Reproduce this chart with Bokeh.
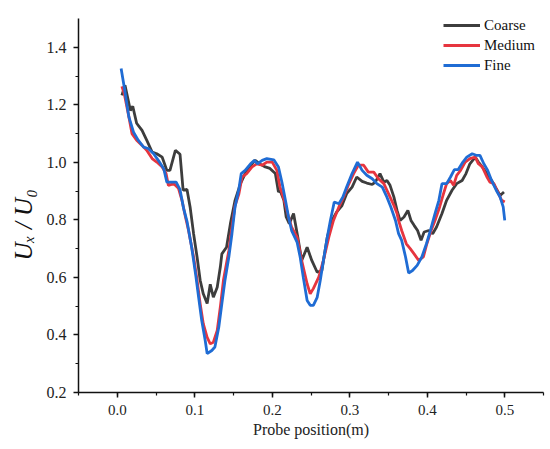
from bokeh.plotting import figure
from bokeh.models import (Range1d, SingleIntervalTicker, PrintfTickFormatter,
                          Legend, LegendItem, Title)
from bokeh.embed import file_html
from bokeh.resources import INLINE

# ---------------- data ----------------
coarse_x = [0.006, 0.010, 0.017, 0.020, 0.025, 0.032, 0.038, 0.045, 0.051, 0.058,
            0.064, 0.068, 0.075, 0.081, 0.085, 0.090, 0.094, 0.0985, 0.103, 0.107,
            0.111, 0.116, 0.120, 0.124, 0.129, 0.133, 0.135, 0.141, 0.146, 0.152,
            0.159, 0.165, 0.172, 0.178, 0.185, 0.191, 0.197, 0.204, 0.208, 0.210,
            0.215, 0.218, 0.222, 0.2275, 0.233, 0.238, 0.245, 0.251, 0.258, 0.264,
            0.271, 0.277, 0.283, 0.290, 0.296, 0.303, 0.309, 0.316, 0.322, 0.329,
            0.333, 0.339, 0.344, 0.348, 0.352, 0.357, 0.361, 0.365, 0.370, 0.375,
            0.379, 0.383, 0.3875, 0.392, 0.396, 0.402, 0.407, 0.412, 0.419, 0.425,
            0.432, 0.438, 0.445, 0.450, 0.455, 0.462, 0.466, 0.471, 0.477, 0.483,
            0.489, 0.494, 0.499]
coarse_y = [1.233, 1.268, 1.180, 1.195, 1.136, 1.111, 1.077, 1.036, 1.030, 1.018,
            0.972, 0.972, 1.042, 1.028, 0.903, 0.906, 0.845, 0.752, 0.671, 0.590,
            0.543, 0.509, 0.576, 0.531, 0.566, 0.636, 0.682, 0.705, 0.787, 0.868,
            0.926, 0.961, 0.990, 1.007, 0.993, 0.984, 0.979, 0.961, 0.897, 0.903,
            0.868, 0.810, 0.787, 0.822, 0.740, 0.659, 0.705, 0.659, 0.618, 0.624,
            0.740, 0.798, 0.827, 0.850, 0.891, 0.914, 0.949, 0.934, 0.928, 0.923,
            0.931, 0.961, 0.931, 0.937, 0.920, 0.879, 0.833, 0.798, 0.810, 0.833,
            0.798, 0.781, 0.763, 0.729, 0.758, 0.763, 0.752, 0.775, 0.822, 0.868,
            0.903, 0.926, 0.937, 0.961, 0.995, 1.018, 1.001, 0.984, 0.961, 0.937,
            0.908, 0.885, 0.897]

medium_x = [0.006, 0.009, 0.015, 0.019, 0.025, 0.032, 0.038, 0.045, 0.051, 0.058,
            0.063, 0.066, 0.073, 0.079, 0.0835, 0.088, 0.092, 0.0985, 0.103, 0.107,
            0.111, 0.116, 0.120, 0.124, 0.129, 0.133, 0.137, 0.144, 0.148, 0.152,
            0.157, 0.161, 0.167, 0.174, 0.180, 0.187, 0.193, 0.200, 0.206, 0.210,
            0.2155, 0.221, 0.225, 0.232, 0.238, 0.245, 0.249, 0.253, 0.260, 0.266,
            0.273, 0.279, 0.286, 0.292, 0.298, 0.305, 0.311, 0.318, 0.324, 0.331,
            0.337, 0.344, 0.350, 0.357, 0.361, 0.363, 0.367, 0.373, 0.378, 0.383,
            0.389, 0.395, 0.3995, 0.405, 0.410, 0.416, 0.421, 0.425, 0.430, 0.434,
            0.438, 0.443, 0.449, 0.455, 0.462, 0.466, 0.471, 0.477, 0.481, 0.486,
            0.492, 0.496, 0.500]
medium_y = [1.264, 1.239, 1.158, 1.100, 1.077, 1.059, 1.042, 1.013, 1.001, 0.984,
            0.961, 0.920, 0.926, 0.910, 0.868, 0.810, 0.763, 0.671, 0.590, 0.509,
            0.439, 0.392, 0.369, 0.375, 0.416, 0.497, 0.590, 0.694, 0.775, 0.850,
            0.891, 0.949, 0.961, 0.984, 0.995, 0.990, 1.001, 1.001, 0.972, 0.914,
            0.868, 0.810, 0.775, 0.740, 0.659, 0.578, 0.543, 0.561, 0.601, 0.659,
            0.740, 0.798, 0.845, 0.879, 0.920, 0.961, 0.990, 0.990, 0.966, 0.966,
            0.943, 0.926, 0.891, 0.850, 0.822, 0.798, 0.763, 0.717, 0.700, 0.682,
            0.659, 0.671, 0.717, 0.763, 0.798, 0.845, 0.891, 0.926, 0.937, 0.920,
            0.955, 0.972, 1.001, 1.013, 1.018, 0.995, 0.984, 0.949, 0.931, 0.926,
            0.891, 0.868, 0.862]

fine_x = [0.005, 0.009, 0.015, 0.021, 0.027, 0.034, 0.040, 0.047, 0.053, 0.060,
          0.064, 0.071, 0.076, 0.081, 0.0856, 0.090, 0.096, 0.101, 0.105, 0.109,
          0.1135, 0.116, 0.122, 0.126, 0.131, 0.135, 0.139, 0.144, 0.148, 0.152,
          0.157, 0.160, 0.165, 0.172, 0.177, 0.181, 0.187, 0.193, 0.202, 0.208,
          0.2125, 0.217, 0.221, 0.225, 0.232, 0.236, 0.240, 0.245, 0.249, 0.253,
          0.258, 0.262, 0.266, 0.271, 0.275, 0.280, 0.286, 0.291, 0.296, 0.303,
          0.310, 0.316, 0.322, 0.329, 0.335, 0.342, 0.348, 0.353, 0.359, 0.363,
          0.367, 0.372, 0.376, 0.381, 0.387, 0.393, 0.399, 0.404, 0.410, 0.415,
          0.419, 0.425, 0.430, 0.435, 0.440, 0.446, 0.451, 0.458, 0.464, 0.468,
          0.473, 0.478, 0.483, 0.489, 0.494, 0.498, 0.500]
fine_y = [1.326, 1.262, 1.158, 1.105, 1.077, 1.053, 1.048, 1.030, 1.007, 0.978,
          0.931, 0.931, 0.931, 0.905, 0.840, 0.795, 0.705, 0.613, 0.531, 0.450,
          0.381, 0.335, 0.346, 0.358, 0.427, 0.509, 0.590, 0.671, 0.752, 0.845,
          0.908, 0.961, 0.972, 0.995, 1.007, 0.995, 1.007, 1.013, 1.009, 0.984,
          0.931, 0.868, 0.810, 0.763, 0.723, 0.671, 0.601, 0.520, 0.503, 0.503,
          0.531, 0.590, 0.659, 0.740, 0.798, 0.862, 0.856, 0.879, 0.914, 0.961,
          1.001, 0.972, 0.955, 0.943, 0.926, 0.914, 0.879, 0.845, 0.798, 0.752,
          0.729, 0.671, 0.615, 0.624, 0.642, 0.671, 0.717, 0.763, 0.822, 0.868,
          0.926, 0.926, 0.949, 0.975, 0.975, 1.001, 1.018, 1.030, 1.024, 1.024,
          0.995, 0.972, 0.937, 0.903, 0.879, 0.845, 0.798]

series_names = ["Coarse", "Medium", "Fine"]
series_colors = ["#3d3d3d", "#e6353f", "#1f6cd4"]

SERIF = "Liberation Serif"

# ---------------- figure ----------------
p = figure(width=548, height=441, output_backend="svg", toolbar_location=None,
           x_range=Range1d(-0.05, 0.55), y_range=Range1d(0.2, 1.5),
           min_border_left=78, min_border_right=5, min_border_top=18,
           min_border_bottom=49)
p.outline_line_color = None
p.xgrid.visible = False
p.ygrid.visible = False
p.background_fill_color = "white"
p.border_fill_color = "white"

xs = [coarse_x, medium_x, fine_x]
ys = [coarse_y, medium_y, fine_y]
renderers = []
for xx, yy, c in zip(xs, ys, series_colors):
    r = p.line(xx, yy, line_color=c, line_width=2.8)
    renderers.append(r)

# axes
p.xaxis.ticker = SingleIntervalTicker(interval=0.1, num_minor_ticks=2)
p.yaxis.ticker = SingleIntervalTicker(interval=0.2, num_minor_ticks=2)
for ax in (p.xaxis, p.yaxis):
    ax.formatter = PrintfTickFormatter(format="%.1f")
    ax.axis_line_color = "#111111"
    ax.axis_line_width = 1.5
    ax.major_tick_line_color = "#111111"
    ax.minor_tick_line_color = "#111111"
    ax.major_tick_line_width = 1.5
    ax.minor_tick_line_width = 1.2
    ax.major_tick_in = 0
    ax.major_tick_out = 5
    ax.minor_tick_in = 0
    ax.minor_tick_out = 3
    ax.major_label_text_font = SERIF
    ax.major_label_text_color = "#222222"

p.xaxis.major_label_text_font_size = "15px"
p.yaxis.major_label_text_font_size = "16px"
p.xaxis.major_label_standoff = 7
p.yaxis.major_label_standoff = 7
p.xaxis.axis_label = "Probe position(m)"
p.xaxis.axis_label_text_font = SERIF
p.xaxis.axis_label_text_font_style = "normal"
p.xaxis.axis_label_text_font_size = "16px"
p.xaxis.axis_label_text_color = "#222222"
p.xaxis.axis_label_standoff = 3

# y axis label as a rotated title on the left side
ytitle = Title(text="U\u2093 / U\u2080", align="left", offset=132,
               text_font=SERIF, text_font_style="italic",
               text_font_size="25px", text_color="#111111", standoff=13)
p.add_layout(ytitle, "left")

legend = Legend(items=[LegendItem(label=n, renderers=[r])
                       for n, r in zip(series_names, renderers)],
                location=(365, 317), glyph_width=37, glyph_height=20,
                label_standoff=4, spacing=0, padding=0, margin=0,
                label_text_font=SERIF, label_text_font_size="15px",
                label_text_color="#111111", label_height=20,
                border_line_color=None, background_fill_alpha=0)
p.add_layout(legend, "center")

open("out.html", "w").write(file_html(p, INLINE))
